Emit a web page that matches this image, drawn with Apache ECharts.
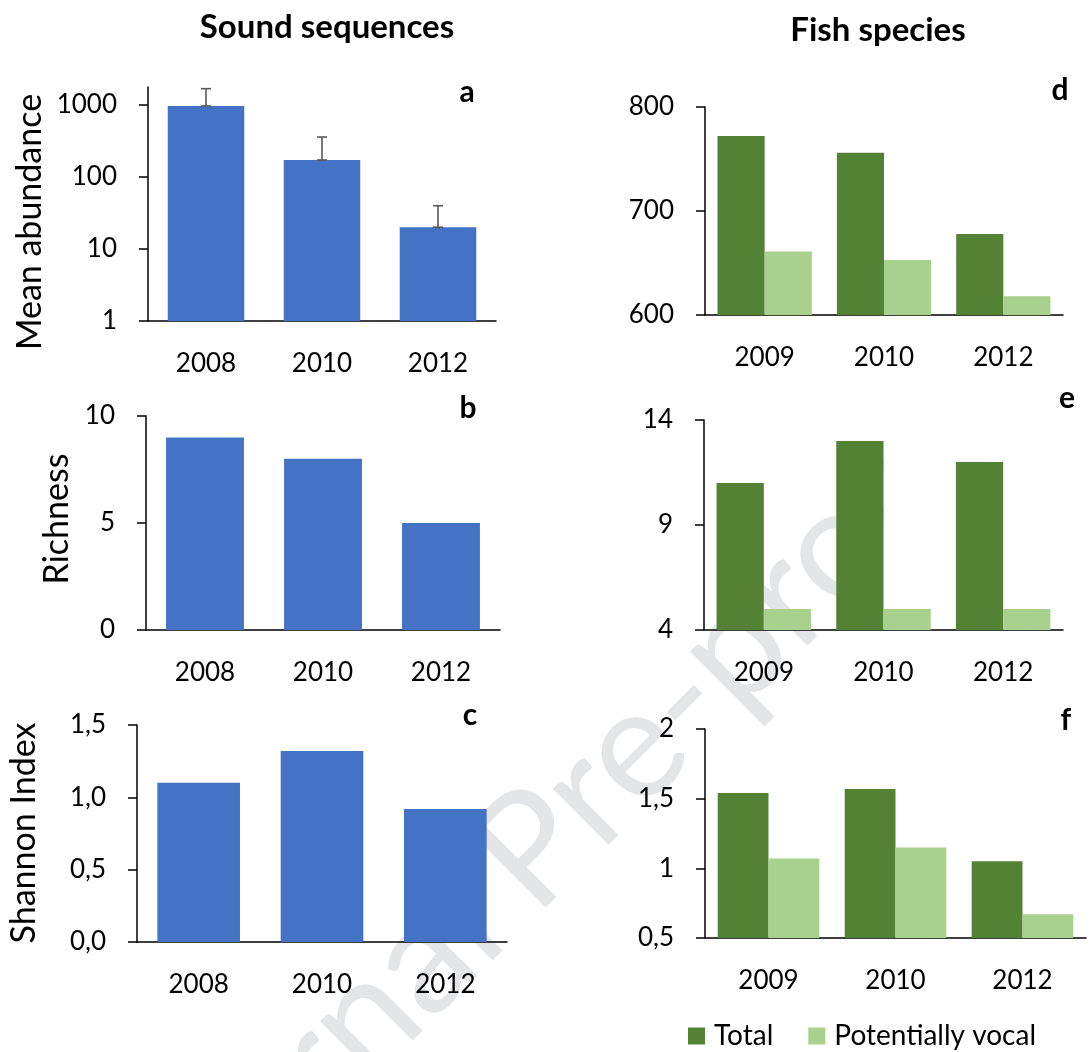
<!DOCTYPE html>
<html>
<head>
<meta charset="utf-8">
<script src="https://cdn.jsdelivr.net/npm/echarts@6/dist/echarts.min.js"></script>
<style>
  html, body { margin: 0; padding: 0; background: #fff; }
  #chart { width: 1091px; height: 1052px; }
</style>
</head>
<body>
<div id="chart"></div>
<script>
// categories
const yearsSound = ['2008', '2010', '2012'];
const yearsFish = ['2009', '2010', '2012'];

// sound sequences (a, b, c)
const soundAbundance = [960, 171, 20];
const soundAbundanceErr = [708, 185, 19.7];
const soundRichness = [9, 8, 5];
const soundShannon = [1.10, 1.32, 0.92];

// fish species (d, e, f)
const fishAbundTotal = [772, 756, 678];
const fishAbundVocal = [661, 653, 618];
const fishRichTotal = [11, 13, 12];
const fishRichVocal = [5, 5, 5];
const fishShannonTotal = [1.54, 1.57, 1.05];
const fishShannonVocal = [1.07, 1.15, 0.67];

// tick labels
const abundTicks = [1, 10, 100, 1000];
const fishRichTicks = [4, 9, 14];

const FONT = 'Lato';
const BLUE = '#4472C4';
const DARK = '#548235';
const LIGHT = '#A9D18E';

const chart = echarts.init(document.getElementById('chart'));

const axisLine = { show: true, lineStyle: { color: '#000', width: 1.5 } };
const comma = v => String(v).replace('.', ',');

function xAxis(gridIndex, data) {
    return {
        type: 'category', gridIndex: gridIndex, data: data,
        axisLine: axisLine,
        axisTick: { show: false },
        axisLabel: { fontFamily: FONT, fontSize: 26, color: '#000', margin: 30 }
    };
}

function yAxis(gridIndex, extra) {
    return Object.assign({
        type: 'value', gridIndex: gridIndex,
        axisLine: axisLine,
        axisTick: { show: true, length: 9, lineStyle: { color: '#000', width: 1.5 } },
        splitLine: { show: false },
        axisLabel: { fontFamily: FONT, fontSize: 26, color: '#000', margin: 31 }
    }, extra);
}

function textEl(text, x, y, size, bold, rotation) {
    return {
        type: 'text', x: x, y: y, rotation: rotation || 0, z: 10,
        style: {
            text: text, fill: '#000', fontFamily: FONT, fontSize: size,
            fontWeight: bold ? 'bold' : 'normal', align: 'center', verticalAlign: 'middle'
        }
    };
}

// watermark, split in two so the gap lands where it does in the original
function markEl(text, x, y, align) {
    return {
        type: 'text', x: x, y: y, rotation: Math.PI / 4, z: -10,
        style: {
            text: text, fill: '#e4e5e7', fontFamily: FONT, fontSize: 156,
            align: align, verticalAlign: 'middle'
        }
    };
}

const option = {
    backgroundColor: '#fff',
    animation: false,
    graphic: [
        markEl('Journal', 475, 907, 'right'),
        markEl('Pre-proof', 500, 882, 'left'),
        // the tail of the watermark is not visible in the original figure
        { type: 'rect', z: -5, shape: { x: 884, y: 330, width: 207, height: 230 }, style: { fill: '#fff' } },
        textEl('Sound sequences', 327, 27, 33, true),
        textEl('Fish species', 878, 30, 33, true),
        textEl('a', 467, 92, 30, true),
        textEl('b', 468, 408, 30, true),
        textEl('c', 470, 715, 30, true),
        textEl('d', 1060, 90, 30, true),
        textEl('e', 1067, 398, 30, true),
        textEl('f', 1066, 720, 30, true),
        textEl('Mean abundance', 30, 222, 34, false, Math.PI / 2),
        textEl('Richness', 57, 519, 34, false, Math.PI / 2),
        textEl('Shannon Index', 24, 833, 34, false, Math.PI / 2)
    ],
    legend: {
        data: ['Total', 'Potentially vocal'],
        left: 688, top: 1022,
        icon: 'rect', itemWidth: 17, itemHeight: 17, itemGap: 35,
        padding: 0,
        textStyle: { fontFamily: FONT, fontSize: 28, color: '#000', padding: [0, 0, 0, 4] }
    },
    grid: [
        { left: 148, top: 87, width: 348, height: 234 },
        { left: 146, top: 416, width: 354, height: 214 },
        { left: 137, top: 725, width: 370, height: 217 },
        { left: 705, top: 107, width: 358, height: 208 },
        { left: 704, top: 420, width: 359, height: 210 },
        { left: 705, top: 729, width: 381, height: 209 }
    ],
    xAxis: [
        xAxis(0, yearsSound),
        xAxis(1, yearsSound),
        xAxis(2, yearsSound),
        xAxis(3, yearsFish),
        xAxis(4, yearsFish),
        xAxis(5, yearsFish)
    ],
    yAxis: [
        yAxis(0, {
            type: 'log', logBase: 10, min: 1, max: 1760,
            axisLabel: {
                fontFamily: FONT, fontSize: 26, color: '#000', margin: 31,
                customValues: abundTicks, formatter: v => String(Math.round(v))
            },
            axisTick: { show: true, length: 9, lineStyle: { color: '#000', width: 1.5 }, customValues: abundTicks }
        }),
        yAxis(1, { min: 0, max: 10, interval: 5 }),
        yAxis(2, {
            min: 0, max: 1.5, interval: 0.5,
            axisLabel: { fontFamily: FONT, fontSize: 26, color: '#000', margin: 31, formatter: v => v.toFixed(1).replace('.', ',') }
        }),
        yAxis(3, { min: 600, max: 800, interval: 100 }),
        yAxis(4, {
            min: 4, max: 14,
            axisLabel: { fontFamily: FONT, fontSize: 26, color: '#000', margin: 31, customValues: fishRichTicks },
            axisTick: { show: true, length: 9, lineStyle: { color: '#000', width: 1.5 }, customValues: fishRichTicks }
        }),
        yAxis(5, {
            min: 0.5, max: 2, interval: 0.5,
            axisLabel: { fontFamily: FONT, fontSize: 26, color: '#000', margin: 31, formatter: comma }
        })
    ],
    series: [
        {
            name: 'Mean abundance', type: 'bar', xAxisIndex: 0, yAxisIndex: 0,
            data: soundAbundance, barCategoryGap: '34%', itemStyle: { color: BLUE }
        },
        {
            name: 'Error', type: 'custom', xAxisIndex: 0, yAxisIndex: 0, z: 3,
            encode: { x: 0, y: [1, 2] },
            data: soundAbundance.map((v, i) => [i, v, v + soundAbundanceErr[i]]),
            renderItem: function (params, api) {
                const lo = api.coord([api.value(0), api.value(1)]);
                const hi = api.coord([api.value(0), api.value(2)]);
                const w = 5;
                const st = { stroke: '#595959', lineWidth: 1.6 };
                return {
                    type: 'group',
                    children: [
                        { type: 'line', shape: { x1: lo[0], y1: lo[1], x2: hi[0], y2: hi[1] }, style: st },
                        { type: 'line', shape: { x1: lo[0] - w, y1: lo[1], x2: lo[0] + w, y2: lo[1] }, style: st },
                        { type: 'line', shape: { x1: hi[0] - w, y1: hi[1], x2: hi[0] + w, y2: hi[1] }, style: st }
                    ]
                };
            }
        },
        {
            name: 'Richness', type: 'bar', xAxisIndex: 1, yAxisIndex: 1,
            data: soundRichness, barCategoryGap: '34%', itemStyle: { color: BLUE }
        },
        {
            name: 'Shannon Index', type: 'bar', xAxisIndex: 2, yAxisIndex: 2,
            data: soundShannon, barCategoryGap: '33%', itemStyle: { color: BLUE }
        },
        {
            name: 'Total', type: 'bar', xAxisIndex: 3, yAxisIndex: 3,
            data: fishAbundTotal, barGap: '0%', barCategoryGap: '21%', itemStyle: { color: DARK }
        },
        {
            name: 'Potentially vocal', type: 'bar', xAxisIndex: 3, yAxisIndex: 3,
            data: fishAbundVocal, barGap: '0%', barCategoryGap: '21%', itemStyle: { color: LIGHT }
        },
        {
            name: 'Total', type: 'bar', xAxisIndex: 4, yAxisIndex: 4,
            data: fishRichTotal, barGap: '0%', barCategoryGap: '21%', itemStyle: { color: DARK }
        },
        {
            name: 'Potentially vocal', type: 'bar', xAxisIndex: 4, yAxisIndex: 4,
            data: fishRichVocal, barGap: '0%', barCategoryGap: '21%', itemStyle: { color: LIGHT }
        },
        {
            name: 'Total', type: 'bar', xAxisIndex: 5, yAxisIndex: 5,
            data: fishShannonTotal, barGap: '0%', barCategoryGap: '20%', itemStyle: { color: DARK }
        },
        {
            name: 'Potentially vocal', type: 'bar', xAxisIndex: 5, yAxisIndex: 5,
            data: fishShannonVocal, barGap: '0%', barCategoryGap: '20%', itemStyle: { color: LIGHT }
        }
    ]
};

chart.setOption(option);
</script>
</body>
</html>
